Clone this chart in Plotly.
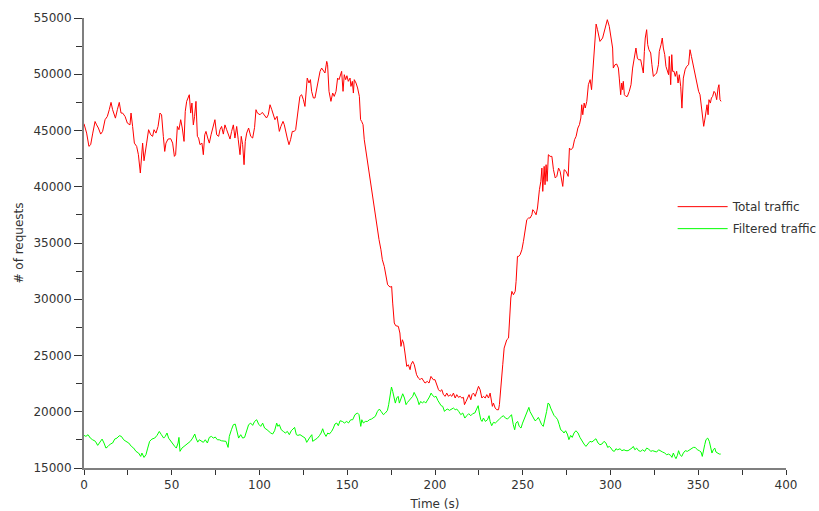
import plotly.graph_objects as go

# ---- data ----
total_t = [0, 1.5, 2.8, 3.8, 5.0, 6.3, 7.2, 8.2, 9.5, 10.6, 12.0, 13.3, 14.4, 15.4, 16.3, 17.9, 19.0, 20.1,
           21.1, 22.0, 23.4, 24.7, 26.2, 26.8, 27.7, 28.7, 30.0, 31.0, 32.1, 32.7, 33.4, 34.2, 35.0, 35.7,
           36.8, 38.0, 39.1, 39.9, 41.0, 42.2, 43.3, 44.2, 45.2, 46.0, 46.7, 47.9, 49.4, 50.5, 51.5, 52.2,
           53.2, 54.1, 55.1, 56.0, 57.0, 57.7, 58.5, 59.3, 60.0, 60.8, 61.5, 62.3, 63.0, 63.8, 64.6, 65.3,
           66.1, 67.2, 68.0, 68.8, 69.5, 70.5, 71.4, 72.4, 73.7, 74.6, 75.6, 76.7, 77.5, 78.4, 79.4, 80.3,
           81.3, 82.4, 83.2, 84.1, 85.1, 86.0, 87.0, 87.9, 88.9, 89.6, 90.4, 91.2, 91.9, 92.7, 93.8, 95.0,
           96.1, 97.2, 98.0, 98.8, 100.3, 101.6, 102.7, 104.0, 105.0, 106.0, 107.0, 107.9, 108.8, 110.0,
           110.7, 111.3, 112.2, 113.4, 114.1, 114.9, 115.8, 116.8, 117.7, 118.7, 119.8, 120.6, 121.3, 122.1,
           123.0, 124.0, 125.0, 125.9, 126.5, 127.2, 128.2, 129.0, 129.7, 130.7, 131.6, 132.6, 133.5, 134.5,
           135.4, 136.4, 137.3, 138.3, 138.8, 139.6, 140.7, 141.7, 142.6, 143.6, 144.5, 145.3, 146.0, 146.8,
           147.6, 148.3, 149.1, 149.8, 150.6, 151.6, 152.1, 152.9, 153.5, 154.0, 155.0, 155.9, 156.9, 157.6,
           158.2, 159.0, 159.7, 160.5, 161.6, 162.4, 163.5, 164.3, 165.4, 166.2, 167.3, 168.1, 169.2, 170.0,
           171.1, 172.1, 173.0, 174.4, 175.3, 175.9, 176.8, 177.6, 179.1, 180.0, 180.6, 181.4, 182.1, 182.9,
           183.9, 184.8, 185.8, 186.3, 187.3, 188.2, 189.5, 190.5, 191.5, 192.4, 193.4, 194.3, 195.6, 196.6,
           197.7, 199.0, 200.0, 201.0, 202.0, 202.9, 203.9, 204.8, 205.8, 206.7, 207.7, 208.6, 209.6, 210.5,
           211.5, 212.4, 213.4, 214.3, 215.3, 216.2, 216.8, 217.7, 218.5, 219.4, 220.4, 221.1, 221.9, 222.9,
           223.8, 224.8, 225.7, 226.7, 227.6, 228.6, 229.5, 230.5, 231.4, 232.0, 232.7, 233.3, 234.3, 235.2,
           236.2, 236.7, 237.5, 238.1, 238.6, 239.4, 240.3, 240.9, 241.9, 242.4, 243.2, 243.8, 244.7, 245.7,
           246.2, 247.0, 247.7, 248.5, 249.5, 250.4, 251.4, 252.3, 253.3, 254.2, 255.2, 255.7, 256.5, 257.6,
           258.4, 259.0, 259.5, 260.3, 260.9, 261.4, 262.2, 262.7, 263.3, 263.9, 264.6, 265.6, 266.6, 267.5,
           268.5, 269.4, 270.4, 271.3, 272.3, 272.8, 273.6, 274.7, 275.9, 276.6, 277.4, 278.5, 279.5, 280.4,
           281.4, 282.3, 283.1, 283.6, 284.2, 285.0, 285.6, 286.5, 287.4, 288.4, 289.2, 289.9, 290.5, 291.3,
           291.8, 292.6, 293.3, 294.0, 295.5, 296.9, 298.2, 299.3, 300.5, 301.2, 301.6, 302.6, 303.5, 304.5,
           305.0, 305.8, 306.4, 306.9, 307.3, 307.9, 308.8, 309.6, 310.7, 311.7, 312.6, 313.6, 314.5, 315.3,
           316.0, 317.2, 317.9, 318.7, 319.3, 319.8, 320.6, 321.2, 321.9, 322.9, 323.6, 324.4, 325.4, 326.3,
           327.3, 327.8, 328.8, 329.5, 330.1, 330.9, 331.6, 332.4, 333.1, 333.5, 334.3, 334.9, 335.4, 336.2,
           336.9, 337.7, 338.5, 339.2, 340.0, 340.7, 341.5, 342.5, 343.4, 344.5, 345.3, 346.1, 346.8, 347.8,
           348.7, 349.5, 350.2, 351.0, 351.8, 352.5, 353.1, 353.9, 354.4, 355.0, 355.6, 356.1, 356.9, 357.5,
           358.2, 359.0, 359.7, 360.5, 361.3, 361.8, 362.4, 363.0]
total_req = [45600, 44770, 43590, 43740, 44770, 45800, 45500, 45220, 44680, 44920, 45960, 46250, 46850, 47500,
             46850, 46100, 46850, 47500, 46550, 46550, 46250, 45660, 45500, 46550, 45360, 43880, 43590, 42850,
             41220, 42850, 43880, 42310, 42990, 43880, 45070, 44620, 44480, 45070, 44770, 45360, 46550, 46400,
             44480, 43140, 43880, 44240, 44270, 43880, 42700, 42850, 45360, 45070, 45960, 45220, 44030, 46700,
             47590, 47880, 48180, 46550, 47440, 45500, 46250, 47590, 44480, 44330, 43740, 43880, 42850, 44620,
             44920, 44330, 43880, 44620, 45360, 45960, 44620, 44480, 45070, 45360, 44680, 45500, 45070, 44620,
             44240, 44920, 45500, 44330, 45360, 44180, 42850, 44480, 43740, 41960, 44030, 44770, 45220, 44480,
             44330, 45280, 46850, 46550, 46400, 46610, 46400, 46110, 46400, 47290, 46850, 46400, 45960, 46260,
             45660, 44920, 45370, 45810, 45520, 44770, 44330, 43740, 44180, 44920, 44920, 45070, 46110, 47140,
             48030, 48180, 47740, 47140, 48630, 49660, 49220, 49520, 48480, 47890, 47890, 48780, 49660, 50260,
             50550, 50260, 50110, 51145, 50850, 48480, 47590, 48330, 48030, 48480, 49660, 49520, 49810, 50260,
             48480, 49960, 49520, 49870, 49370, 49660, 48920, 49370, 48330, 49520, 49220, 48780, 48030, 45960,
             45810, 45520, 44180, 43290, 42110, 41220, 40330, 39440, 37960, 37070, 36030, 35300, 34400, 33510,
             32920, 32180, 31290, 31080, 31140, 29660, 27890, 27650, 27590, 27000, 25810, 26400, 26110, 25220,
             24030, 24180, 23740, 24180, 24480, 24180, 23290, 23000, 22850, 23000, 22700, 22550, 22700, 22550,
             23140, 22850, 22850, 22400, 21960, 21810, 21960, 21520, 21370, 21660, 21370, 21520, 21370, 21660,
             21220, 21520, 21280, 21370, 21220, 21280, 20630, 20920, 21220, 21520, 21070, 21520, 21660, 21370,
             21810, 22260, 21960, 21220, 21370, 21220, 21520, 21220, 21660, 20920, 20480, 20770, 20330, 20180,
             20180, 20630, 22400, 23440, 24180, 25660, 26110, 26400, 26550, 28030, 30110, 30700, 30400, 30700,
             31590, 33810, 33810, 33960, 34400, 35150, 36030, 37070, 37220, 37220, 37510, 37960, 37810, 37510,
             38110, 39150, 39740, 40480, 41660, 39590, 41810, 40180, 41960, 40480, 42850, 42700, 42700, 41520,
             40780, 40920, 41660, 41370, 40630, 40030, 41520, 41370, 40920, 43440, 43290, 43440, 44180, 44480,
             45220, 45520, 46110, 47290, 46400, 47440, 47000, 47590, 49070, 49520, 48630, 50260, 52330, 54110,
             54460, 53960, 53300, 52920, 53220, 54110, 54850, 54260, 53220, 52330, 50550, 50850, 50910, 50550,
             49660, 48180, 49220, 48630, 49370, 48180, 48030, 48030, 48480, 49070, 50550, 51740, 52330, 51440,
             51290, 51290, 50550, 50110, 52030, 53220, 53960, 52630, 52180, 51890, 50850, 49810, 49960, 50110,
             50850, 52030, 52630, 53220, 52330, 51740, 50700, 50260, 49960, 51590, 49070, 51740, 50260, 50260,
             49810, 50260, 49220, 49960, 48920, 46990, 49660, 50400, 50700, 50850, 52180, 51590, 51000, 50400,
             49660, 48780, 48480, 48180, 47290, 46400, 45370, 46110, 46700, 47290, 46400, 47740, 47440, 47890,
             48030, 48480, 48330, 47740, 48780, 49070, 47740, 47590]

filtered_t = [0, 1.1, 2.3, 3.6, 4.9, 6.5, 7.8, 8.9, 10.3, 11.4, 12.5, 13.7, 15.0, 16.3, 17.5, 18.8, 20.1, 21.3,
              22.6, 23.9, 25.5, 27.0, 28.3, 29.6, 31.1, 32.3, 33.0, 34.2, 35.3, 36.3, 37.4, 38.7, 40.3, 41.6,
              42.9, 44.1, 45.4, 46.3, 47.3, 48.2, 49.4, 50.5, 51.7, 52.6, 53.6, 54.1, 54.7, 55.8, 57.0, 58.1,
              59.3, 60.6, 61.9, 63.1, 63.8, 64.8, 65.7, 66.9, 68.0, 69.1, 70.3, 71.4, 72.6, 73.7, 74.8, 76.0,
              77.1, 78.3, 79.6, 80.9, 82.1, 82.8, 84.0, 85.1, 86.2, 87.2, 88.1, 89.3, 90.4, 91.5, 92.7, 93.8,
              95.0, 96.1, 97.2, 98.4, 99.5, 100.7, 101.8, 102.9, 104.3, 105.2, 106.4, 107.5, 108.6, 109.8,
              110.5, 111.3, 112.4, 113.6, 114.7, 115.9, 117.0, 118.1, 119.3, 120.0, 121.0, 121.9, 123.1, 124.6,
              126.0, 126.9, 127.9, 128.8, 129.8, 130.3, 131.7, 133.0, 134.1, 135.1, 136.0, 136.8, 137.9, 138.9,
              139.8, 141.1, 142.1, 143.0, 144.0, 144.9, 145.9, 147.2, 148.4, 149.7, 150.7, 152.0, 153.1, 154.4,
              155.8, 156.7, 157.7, 158.3, 159.2, 160.3, 161.5, 162.6, 163.8, 164.9, 166.0, 167.2, 168.3, 169.3,
              170.6, 171.7, 172.9, 173.6, 174.4, 175.2, 175.9, 176.7, 177.4, 178.2, 179.0, 179.7, 180.7, 181.6,
              182.6, 183.5, 184.3, 185.2, 186.2, 187.3, 188.1, 189.0, 190.0, 190.9, 191.9, 192.8, 193.8, 194.7,
              195.7, 196.8, 197.8, 198.7, 199.7, 200.6, 201.6, 202.5, 203.5, 204.4, 205.4, 206.3, 207.3, 208.2,
              209.4, 210.5, 211.5, 212.4, 213.5, 214.7, 215.8, 217.0, 218.1, 219.2, 220.4, 221.5, 222.7, 223.8,
              224.6, 225.3, 226.1, 226.8, 227.6, 228.7, 229.9, 230.8, 231.4, 232.3, 233.3, 234.4, 235.6, 236.7,
              237.9, 239.0, 240.1, 241.3, 242.4, 243.6, 244.6, 245.4, 246.1, 247.1, 248.0, 249.0, 249.9, 250.9,
              251.8, 252.8, 253.5, 254.1, 255.0, 256.0, 257.0, 257.9, 258.9, 259.8, 260.8, 261.7, 262.7, 263.6,
              264.4, 265.1, 265.9, 266.8, 267.8, 268.9, 269.9, 270.8, 271.6, 272.5, 273.5, 274.4, 275.4, 276.3,
              277.3, 278.2, 279.2, 280.3, 281.5, 282.6, 283.7, 284.9, 286.0, 287.2, 288.3, 289.4, 290.6, 291.7,
              292.9, 294.0, 295.1, 296.3, 297.4, 298.4, 299.3, 300.3, 301.2, 302.2, 303.1, 304.1, 305.4, 306.5,
              307.7, 308.8, 310.0, 311.1, 312.2, 313.0, 313.9, 314.9, 316.0, 317.2, 318.3, 319.5, 320.6, 321.7,
              322.9, 324.0, 325.2, 326.3, 327.4, 328.6, 329.7, 330.9, 332.0, 333.1, 334.3, 335.0, 335.8, 336.6,
              337.3, 338.1, 338.8, 339.6, 340.6, 341.5, 342.6, 343.8, 344.9, 346.1, 347.2, 348.3, 349.5, 350.6,
              351.6, 352.3, 352.9, 353.7, 354.4, 355.4, 356.3, 357.1, 357.8, 358.6, 359.4, 360.1, 360.9, 362.0,
              362.8]
filtered_req = [17900, 17810, 17960, 17660, 17510, 17370, 17010, 17300, 17570, 17220, 16770, 16920, 17130, 17220,
                17570, 17660, 17870, 17810, 17510, 17370, 17220, 16920, 16770, 16480, 16330, 16030, 16330, 15940,
                16180, 16770, 17370, 17570, 17660, 17900, 18250, 17960, 17660, 17810, 18110, 17660, 17370, 17220,
                16920, 16770, 17220, 17720, 16480, 16770, 16920, 17130, 17220, 17370, 17660, 18020, 17660, 17300,
                17510, 17370, 17280, 17510, 17220, 17720, 17810, 17660, 17750, 17510, 17510, 17420, 17420, 17370,
                16830, 17810, 18400, 18850, 18900, 18250, 17660, 17960, 17660, 17720, 18250, 18850, 18990, 18790,
                19140, 19290, 18900, 18700, 18990, 18550, 18400, 18250, 18110, 18020, 18310, 18990, 18700, 18850,
                18400, 18250, 18110, 18250, 17960, 18310, 18550, 18610, 17960, 17900, 17960, 17810, 17660, 17280,
                17570, 17750, 17960, 17370, 17520, 17660, 17870, 18110, 18490, 18110, 17810, 18110, 18020, 18260,
                18550, 18910, 19000, 18760, 19200, 19140, 19000, 19140, 19000, 19290, 19290, 19740, 19890, 19740,
                18700, 19290, 19000, 19140, 19140, 19290, 19350, 19440, 19590, 20030, 20240, 20030, 19740, 19890,
                20120, 20630, 21520, 22200, 21810, 21220, 20770, 21220, 21370, 20770, 21130, 21600, 21220, 20630,
                20830, 21010, 21220, 21370, 21720, 21430, 21130, 20630, 20920, 20770, 20920, 20770, 21010, 21310,
                21660, 21430, 21310, 21370, 21010, 20720, 20540, 20480, 20030, 20180, 20240, 20120, 20240, 20330,
                20180, 20240, 20030, 19740, 19890, 19440, 19650, 19830, 19650, 19830, 19890, 20330, 20540, 19890,
                19290, 19140, 19440, 19140, 19290, 19650, 19140, 18760, 19060, 19000, 19140, 19350, 19530, 19650,
                19440, 19350, 19530, 19740, 18850, 18400, 18990, 19140, 18700, 18550, 18990, 19380, 19740, 20090,
                20390, 20030, 19740, 19380, 19200, 19290, 19500, 19200, 18850, 18700, 19290, 20030, 20770, 20690,
                20330, 20030, 19680, 19500, 19290, 18850, 18400, 18310, 18110, 18310, 18020, 17520, 17900, 17720,
                18110, 18310, 18110, 17720, 17370, 17130, 16920, 17130, 17370, 17310, 17430, 17600, 17220, 17070,
                17130, 17370, 17220, 16830, 16920, 16770, 16540, 16480, 16710, 16620, 16710, 16540, 16620, 16540,
                16540, 16620, 16770, 16920, 16620, 16770, 16540, 16480, 16620, 16480, 16770, 16690, 16480, 16540,
                16480, 16420, 16620, 16480, 16420, 16330, 16180, 16240, 16120, 15945, 16330, 16030, 15830, 16120,
                16540, 16180, 16030, 16330, 16540, 16480, 16620, 16770, 16830, 16830, 16620, 16540, 16420, 16030,
                16620, 17070, 17520, 17660, 17370, 16920, 16330, 16620, 16770, 16420, 16330, 16240, 16240]

x_ticks = [0, 50, 100, 150, 200, 250, 300, 350, 400]
y_ticks = [15000, 20000, 25000, 30000, 35000, 40000, 45000, 50000, 55000]

FONT = "DejaVu Sans"
AXIS_GREY = "#7f7f7f"
TEXT_COL = "#333333"

fig = go.Figure()
fig.add_trace(go.Scatter(x=total_t, y=total_req, mode="lines", name="Total traffic",
                         legendgroup="total", line=dict(color="#ff0000", width=1)))
fig.add_trace(go.Scatter(x=filtered_t, y=filtered_req, mode="lines", name="Filtered traffic",
                         legendgroup="filtered", line=dict(color="#00ff00", width=1)))

fig.update_layout(
    width=819, height=511,
    margin=dict(l=84, r=33, t=18, b=43, autoexpand=False),
    paper_bgcolor="white", plot_bgcolor="white",
    font=dict(family=FONT, size=12, color=TEXT_COL),
    showlegend=True,
    legend=dict(x=0.8385, y=0.613, xanchor="left", yanchor="top",
                bgcolor="rgba(0,0,0,0)", borderwidth=0, itemwidth=50,
                tracegroupgap=3,
                font=dict(family=FONT, size=12, color=TEXT_COL)),
)
fig.update_xaxes(
    range=[0, 400], tickvals=x_ticks, ticktext=[str(v) for v in x_ticks],
    automargin=False,
    showgrid=False, zeroline=False, showline=True, linecolor=AXIS_GREY, linewidth=2,
    ticks="outside", ticklen=5, tickwidth=1, tickcolor="#333333",
    minor=dict(dtick=25, ticks="outside", ticklen=5, tickwidth=1, tickcolor="#333333", showgrid=False),
    title=dict(text="Time (s)", standoff=8, font=dict(family=FONT, size=12, color=TEXT_COL)),
    tickfont=dict(family=FONT, size=12, color=TEXT_COL),
)
fig.update_yaxes(
    range=[15000, 55000], tickvals=y_ticks, ticktext=[str(v) for v in y_ticks],
    automargin=False,
    showgrid=False, zeroline=False, showline=True, linecolor=AXIS_GREY, linewidth=2,
    ticks="outside", ticklen=8, tickwidth=1, tickcolor="#333333",
    minor=dict(dtick=2500, tick0=15000, ticks="outside", ticklen=6, tickwidth=1, tickcolor="#333333",
               showgrid=False),
    title=dict(text="# of requests", standoff=7, font=dict(family=FONT, size=12, color=TEXT_COL)),
    tickfont=dict(family=FONT, size=12, color=TEXT_COL),
)

fig.write_html("out.html")
